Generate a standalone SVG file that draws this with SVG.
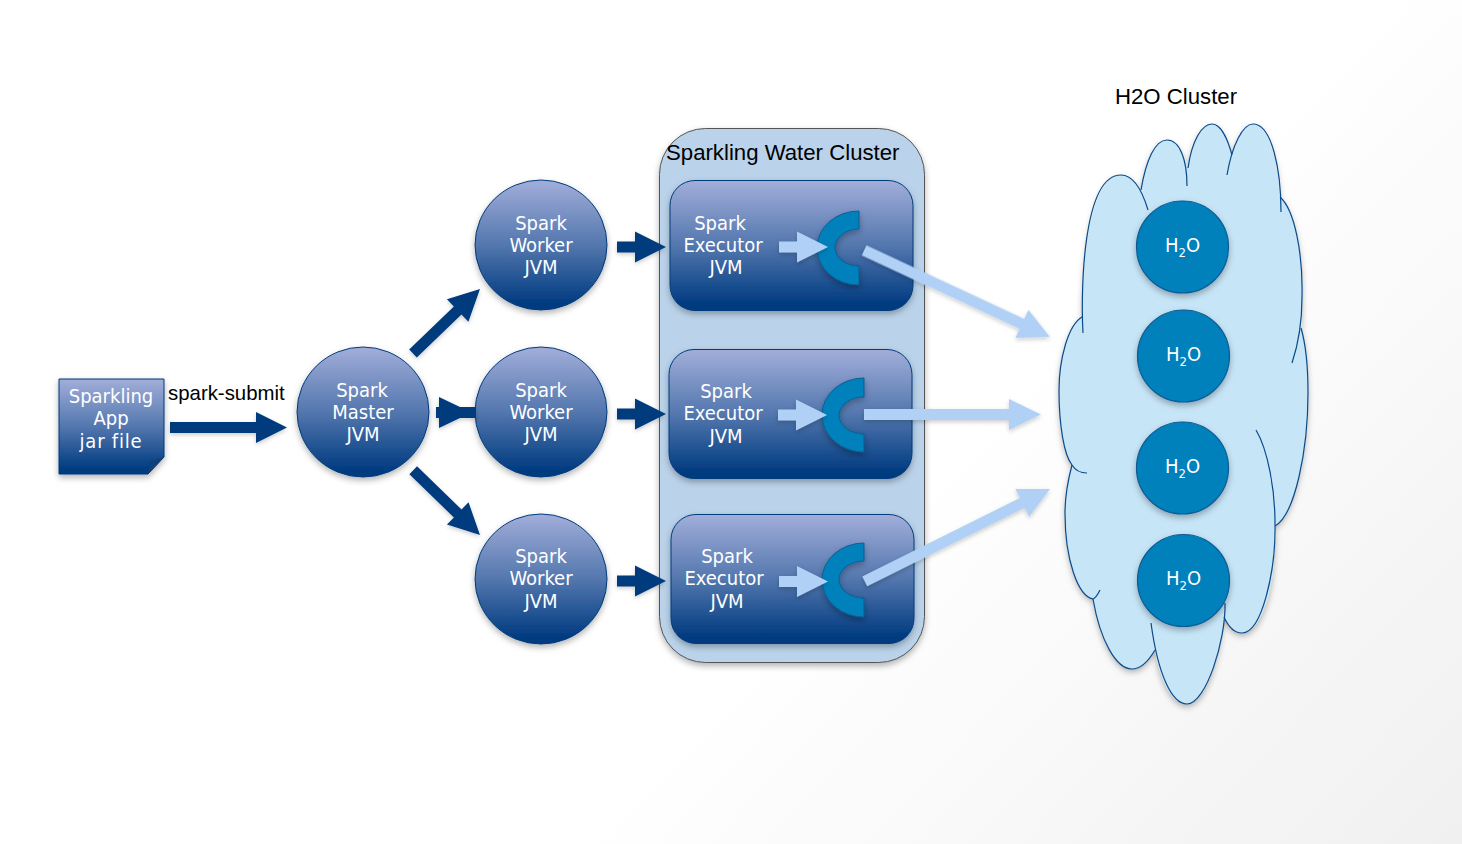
<svg xmlns="http://www.w3.org/2000/svg" width="1462" height="844" viewBox="0 0 1462 844">
<style>
.lbl{font-family:"DejaVu Sans Condensed","DejaVu Sans",sans-serif;font-stretch:condensed;font-size:20px;fill:#fff;text-anchor:middle;font-variant-ligatures:none}
.cap{font-family:"Liberation Sans",Arial,sans-serif;fill:#000}
.jvm{fill:url(#blue);stroke:#003b7c;stroke-width:1;filter:url(#sh)}
.dark{fill:#003a7d}
.light{fill:#b0d0f5}
.h2o{fill:#0081bc;stroke:#0b5a94;stroke-width:1.2;filter:url(#sh)}
.cee{fill:#0081bc;stroke:#0b5f96;stroke-width:1;filter:url(#sh)}
.edge{fill:none;stroke:#0b4a8a;stroke-width:1.2}
</style>
<defs>
<linearGradient id="bg" gradientUnits="userSpaceOnUse" x1="1000" y1="400" x2="1462" y2="844"><stop offset="0" stop-color="#fff"/><stop offset="1" stop-color="#f0f0f0"/></linearGradient>
<linearGradient id="blue" x1="0" y1="0" x2="0" y2="1"><stop offset="0" stop-color="#a2aeda"/><stop offset=".5" stop-color="#5377ae"/><stop offset=".95" stop-color="#003b80"/></linearGradient>
<filter id="sh" x="-20%" y="-20%" width="140%" height="140%"><feDropShadow dx="0" dy="3" stdDeviation="3" flood-color="#000" flood-opacity=".3"/></filter>
<filter id="sh2" x="-20%" y="-20%" width="140%" height="140%"><feDropShadow dx="0" dy="2" stdDeviation="2" flood-color="#000" flood-opacity=".2"/></filter>
<path id="sm" d="M-49,-5.500H-31V-15.500L0,0L-31,15.500V5.500H-49Z"/>
</defs>
<rect width="1462" height="844" fill="url(#bg)"/>

<g id="cluster-sparkling-water">
<rect x="659.500" y="128.500" width="265" height="534" rx="46" fill="#bad3ea" stroke="#555" stroke-width="1" filter="url(#sh)"/>
<text class="cap" x="666" y="160" font-size="22.200">Sparkling Water Cluster</text>
</g>

<g id="cluster-h2o">
<path filter="url(#sh)" fill="#c6e5f7" d="M1082,317C1083,250 1092,175 1121,175C1130,175 1137,182 1141,190C1146,160 1155,140 1167,140C1176,140 1184,152 1188,168C1192,140 1202,124 1212,124C1221,124 1228,140 1232,155C1237,136 1245,124 1253,124C1268,124 1278,160 1280,197C1295,210 1303,255 1302,297C1302,310 1302,320 1301,328C1306,345 1308,370 1308,393C1308,450 1295,515 1275,526C1276,545 1274,557 1274,557C1272,600 1258,633 1242,633C1234,633 1228,626 1224,617C1218,665 1204,704 1187,704C1172,704 1160,680 1155,650C1148,662 1141,669 1132,669C1116,669 1100,640 1093,599C1078,596 1065,560 1065,513C1065,495 1068,480 1072,465C1064,455 1059,425 1059,390C1059,360 1068,325 1082,317Z"/>
<g class="edge">
<path d="M1083,333C1081,300 1081,175 1121,175C1133,175 1142,190 1148,210"/>
<path d="M1141,190C1146,160 1155,140 1167,140C1180,140 1187,160 1187,186"/>
<path d="M1188,168C1192,140 1202,124 1212,124C1221,124 1228,140 1232,155"/>
<path d="M1227,175C1232,145 1243,124 1253,124C1272,124 1281,170 1281,212"/>
<path d="M1280,197C1295,210 1303,255 1302,297C1302,320 1298,345 1292,363"/>
<path d="M1301,328C1306,345 1308,370 1308,393C1308,450 1295,515 1275,526"/>
<path d="M1256,430C1268,450 1275,490 1275,523C1276,570 1262,633 1242,633C1234,633 1228,626 1224,617"/>
<path d="M1225,603C1226,640 1206,704 1187,704C1172,704 1158,675 1151,623"/>
<path d="M1155,650C1148,662 1141,669 1132,669C1116,669 1100,640 1093,599"/>
<path d="M1100,590C1098,594 1096,598 1093,599C1078,596 1065,560 1065,513C1065,495 1068,480 1072,465"/>
<path d="M1087,473C1080,473 1075,470 1072,465C1064,455 1059,425 1059,390C1059,360 1068,325 1082,317"/>
</g>
<text class="cap" x="1115" y="104" font-size="22.200">H2O Cluster</text>
</g>

<g id="node-jar">
<path d="M59,379H164V457L148,474H59Z" fill="url(#blue)" stroke="#003b7c" stroke-width="1" filter="url(#sh)"/>
<path d="M164,457L148,474L150,461Z" fill="#123f7a"/>
<text class="lbl" x="111" y="403">Sparkling</text><text class="lbl" x="111" y="425">App</text><text class="lbl" x="111" y="448" letter-spacing=".8">jar file</text>
</g>
<text class="cap" x="168" y="400" font-size="20.400">spark-submit</text>

<g id="node-master"><ellipse class="jvm" cx="363" cy="412" rx="66" ry="65"/><text class="lbl" x="362" y="397">Spark</text><text class="lbl" x="363" y="419">Master</text><text class="lbl" x="363" y="441">JVM</text></g>

<g id="node-worker-1"><ellipse class="jvm" cx="541" cy="245" rx="66" ry="65"/><text class="lbl" x="541" y="230">Spark</text><text class="lbl" x="541" y="252">Worker</text><text class="lbl" x="541" y="274">JVM</text></g>
<g id="node-worker-2"><ellipse class="jvm" cx="541" cy="412" rx="66" ry="65"/><text class="lbl" x="541" y="397">Spark</text><text class="lbl" x="541" y="419">Worker</text><text class="lbl" x="541" y="441">JVM</text></g>
<g id="node-worker-3"><ellipse class="jvm" cx="541" cy="579" rx="66" ry="65"/><text class="lbl" x="541" y="563">Spark</text><text class="lbl" x="541" y="585">Worker</text><text class="lbl" x="541" y="608">JVM</text></g>

<g id="node-executor-1"><rect class="jvm" x="670" y="180.500" width="243" height="130" rx="25"/><text class="lbl" x="720" y="230">Spark</text><text class="lbl" x="723" y="252">Executor</text><text class="lbl" x="726" y="274">JVM</text>
<path class="cee" d="M859,211A42,37 0 0 0 859,285V266A24,18.500 0 0 1 859,229Z"/></g>
<g id="node-executor-2"><rect class="jvm" x="669" y="349.500" width="243" height="129" rx="25"/><text class="lbl" x="726" y="398">Spark</text><text class="lbl" x="723" y="420">Executor</text><text class="lbl" x="726" y="443">JVM</text>
<path class="cee" d="M864,378A42,37 0 0 0 864,452V434A25,18.500 0 0 1 864,397Z"/></g>
<g id="node-executor-3"><rect class="jvm" x="671" y="514.500" width="243" height="129" rx="25"/><text class="lbl" x="727" y="563">Spark</text><text class="lbl" x="724" y="585">Executor</text><text class="lbl" x="727" y="608">JVM</text>
<path class="cee" d="M864,543A42,37 0 0 0 864,617V598A25,18.500 0 0 1 864,561Z"/></g>

<g id="node-h2o-1"><circle class="h2o" cx="1182.500" cy="247" r="46"/><text class="lbl" x="1182.500" y="252">H<tspan font-size="13" dy="5">2</tspan><tspan dy="-5">O</tspan></text></g>
<g id="node-h2o-2"><circle class="h2o" cx="1183.500" cy="356" r="46"/><text class="lbl" x="1183.500" y="361">H<tspan font-size="13" dy="5">2</tspan><tspan dy="-5">O</tspan></text></g>
<g id="node-h2o-3"><circle class="h2o" cx="1182.500" cy="468" r="46"/><text class="lbl" x="1182.500" y="473">H<tspan font-size="13" dy="5">2</tspan><tspan dy="-5">O</tspan></text></g>
<g id="node-h2o-4"><circle class="h2o" cx="1183.500" cy="580.500" r="46"/><text class="lbl" x="1183.500" y="585">H<tspan font-size="13" dy="5">2</tspan><tspan dy="-5">O</tspan></text></g>

<g id="connectors">
<g class="dark" filter="url(#sh2)">
<path d="M170,422H256V412L287,427.500L256,443V433H170Z"/>
<path transform="translate(480,289) rotate(-43.900)" d="M0,0L-31,-15.500V-5.500H-93V5.500H-31V15.500Z"/>
<path transform="translate(480,535) rotate(44.100)" d="M0,0L-31,-15.500V-5.500H-93V5.500H-31V15.500Z"/>
<path d="M436,407H439V397L460,407H476V418H460L439,428V418H436Z"/>
<use href="#sm" transform="translate(666,247)"/>
<use href="#sm" transform="translate(666,414)"/>
<use href="#sm" transform="translate(666,581)"/>
</g>
<g class="light" filter="url(#sh2)">
<use href="#sm" transform="translate(828,247)"/>
<use href="#sm" transform="translate(827,415)"/>
<use href="#sm" transform="translate(828,581.500)"/>
<path d="M864,409H1009V399L1041,414.500L1009,430V420H864Z"/>
<path transform="translate(1050,337) rotate(25)" d="M0,0L-31,-15.500V-5.500H-205V5.500H-31V15.500Z"/>
<path transform="translate(1050,489) rotate(-26.500)" d="M0,0L-31,-15.500V-5.500H-207V5.500H-31V15.500Z"/>
</g>
</g>
</svg>
